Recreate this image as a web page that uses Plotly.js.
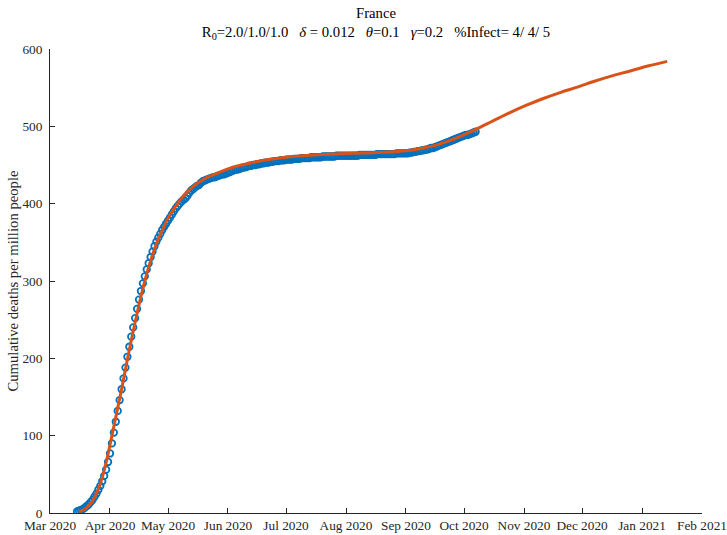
<!DOCTYPE html>
<html>
<head>
<meta charset="utf-8">
<script src="https://cdn.plot.ly/plotly-3.0.1.min.js"></script>
<style>
  html, body { margin: 0; padding: 0; background: #fff; }
  #plot { width: 727px; height: 535px; }
</style>
</head>
<body>
<div id="plot"></div>
<script>
// observed data, one value per day starting at dataStart
const dataStart = "2020-03-15";
const deathsMar = [2, 3, 4, 5, 7, 9, 11, 14, 17, 21, 25, 30, 35, 41, 48, 56, 66];
const deathsApr = [77, 90, 104, 118, 132, 146, 160, 174, 188, 202, 215, 228, 240, 252, 264,
  276, 287, 297, 306, 315, 323, 331, 338, 345, 351, 356, 361, 366, 370, 374];
const deathsMay = [378, 382, 386, 390, 394, 397, 400, 403, 405, 407, 410, 414, 417, 419, 421,
  423, 424, 427, 429, 430, 431, 432, 433, 434, 434, 435, 436, 437, 438, 438, 439];
const deathsJun = [440, 441, 442, 443, 444, 444, 445, 446, 447, 447, 448, 449, 449, 450, 450,
  451, 451, 452, 452, 453, 453, 453, 454, 454, 455, 455, 455, 456, 456, 456];
const deathsJul = [457, 457, 457, 457, 458, 458, 458, 458, 459, 459, 459, 459, 459, 460, 460,
  460, 460, 460, 460, 461, 461, 461, 461, 461, 461, 461, 462, 462, 462, 462, 462];
const deathsAug = [462, 462, 462, 462, 462, 462, 462, 463, 463, 463, 463, 463, 463, 463, 463,
  463, 464, 464, 464, 464, 464, 464, 464, 464, 464, 464, 465, 465, 465, 465, 465];
const deathsSep = [465, 465, 466, 466, 467, 467, 468, 468, 469, 469, 470, 470, 471, 472, 472,
  473, 474, 475, 476, 477, 478, 479, 480, 481, 482, 483, 484, 485, 486, 487];
const deathsOct = [488, 489, 489, 490, 491, 492, 493];

// model curve
const modelDates = ["2020-03-16", "2020-03-18", "2020-03-20", "2020-03-22", "2020-03-24",
  "2020-03-26", "2020-03-28", "2020-03-30", "2020-04-01", "2020-04-03", "2020-04-05",
  "2020-04-07", "2020-04-09", "2020-04-11", "2020-04-13", "2020-04-15", "2020-04-17",
  "2020-04-19", "2020-04-21", "2020-04-23", "2020-04-25", "2020-04-27", "2020-04-29",
  "2020-05-01", "2020-05-04", "2020-05-07", "2020-05-10", "2020-05-13", "2020-05-16",
  "2020-05-19", "2020-05-22", "2020-05-26", "2020-06-01", "2020-06-08", "2020-06-15",
  "2020-06-22", "2020-07-01", "2020-07-15", "2020-08-01", "2020-08-15", "2020-08-25",
  "2020-09-03", "2020-09-10", "2020-09-17", "2020-09-24", "2020-09-30", "2020-10-07",
  "2020-10-16", "2020-10-25", "2020-11-02", "2020-11-11", "2020-11-20", "2020-11-29",
  "2020-12-07", "2020-12-16", "2020-12-25", "2021-01-04", "2021-01-14"];
const modelDeaths = [1.5, 3.5, 7, 12, 20, 31, 46, 65, 88, 112, 136, 160, 186, 211, 235, 258,
  280, 300, 318, 334, 348, 360, 371, 381, 393, 404, 413, 420, 426, 431, 435, 439, 445, 450,
  454, 457, 460, 463, 465, 466, 467, 469, 472, 476, 482, 488, 496, 507, 518, 527, 536, 544,
  551, 558, 565, 571, 578, 584];

const monthTicks = ["2020-03-01", "2020-04-01", "2020-05-01", "2020-06-01", "2020-07-01",
  "2020-08-01", "2020-09-01", "2020-10-01", "2020-11-01", "2020-12-01", "2021-01-01",
  "2021-02-01"];
const monthLabels = ["Mar 2020", "Apr 2020", "May 2020", "Jun 2020", "Jul 2020", "Aug 2020",
  "Sep 2020", "Oct 2020", "Nov 2020", "Dec 2020", "Jan 2021", "Feb 2021"];

function dayList(start, n) {
  const out = [];
  const d0 = new Date(start + "T00:00:00Z").getTime();
  for (let i = 0; i < n; i++) {
    out.push(new Date(d0 + i * 86400000).toISOString().slice(0, 10));
  }
  return out;
}

const deaths = [].concat(deathsMar, deathsApr, deathsMay, deathsJun, deathsJul,
  deathsAug, deathsSep, deathsOct);
const dataDates = dayList(dataStart, deaths.length);

const dataTrace = {
  x: dataDates,
  y: deaths,
  type: "scatter",
  mode: "markers",
  marker: { symbol: "circle-open", size: 6.5, color: "#0072BD", line: { width: 1.8, color: "#0072BD" } },
  name: "data",
};

const modelTrace = {
  x: modelDates,
  y: modelDeaths,
  type: "scatter",
  mode: "lines",
  line: { color: "#D95319", width: 3, shape: "spline", smoothing: 1 },
  name: "model",
};

const nb = "\u00a0";
const sep = nb + nb + nb;
const titleText = "France<br>R<sub>0</sub>=2.0/1.0/1.0" + sep + "<i>δ</i> = 0.012" + sep +
  "<i>θ</i>=0.1" + sep + "<i>γ</i>=0.2" + sep + "%Infect= 4/ 4/ 5";

const axisColor = "#262626";
const serif = "Liberation Serif";

Plotly.newPlot("plot", [dataTrace, modelTrace], {
  width: 727,
  height: 535,
  margin: { l: 50, r: 25, t: 49, b: 22 },
  paper_bgcolor: "white",
  plot_bgcolor: "white",
  showlegend: false,
  font: { family: serif, size: 13.3, color: axisColor },
  title: {
    text: titleText,
    font: { family: serif, size: 14.7, color: "#000" },
    x: 0.5,
    xref: "paper",
    xanchor: "center",
    y: 1,
    yref: "paper",
    yanchor: "bottom",
    pad: { b: 31 },
  },
  xaxis: {
    type: "date",
    range: ["2020-03-01", "2021-02-01"],
    tickvals: monthTicks,
    ticktext: monthLabels,
    tickfont: { family: serif, size: 13.3, color: axisColor },
    ticks: "inside",
    ticklen: 5,
    tickwidth: 1,
    tickcolor: axisColor,
    showline: true,
    linecolor: axisColor,
    linewidth: 1,
    showgrid: false,
    zeroline: false,
    ticklabelstandoff: 0,
  },
  yaxis: {
    range: [0, 600],
    tick0: 0,
    dtick: 100,
    tickfont: { family: serif, size: 13.3, color: axisColor },
    ticks: "inside",
    ticklen: 5,
    tickwidth: 1,
    tickcolor: axisColor,
    showline: true,
    linecolor: axisColor,
    linewidth: 1,
    showgrid: false,
    zeroline: false,
    ticklabelstandoff: 4,
    title: { text: "Cumulative deaths per million people", font: { family: serif, size: 14.7, color: axisColor }, standoff: 0 },
  },
}, { displayModeBar: false, staticPlot: true });
</script>
</body>
</html>
